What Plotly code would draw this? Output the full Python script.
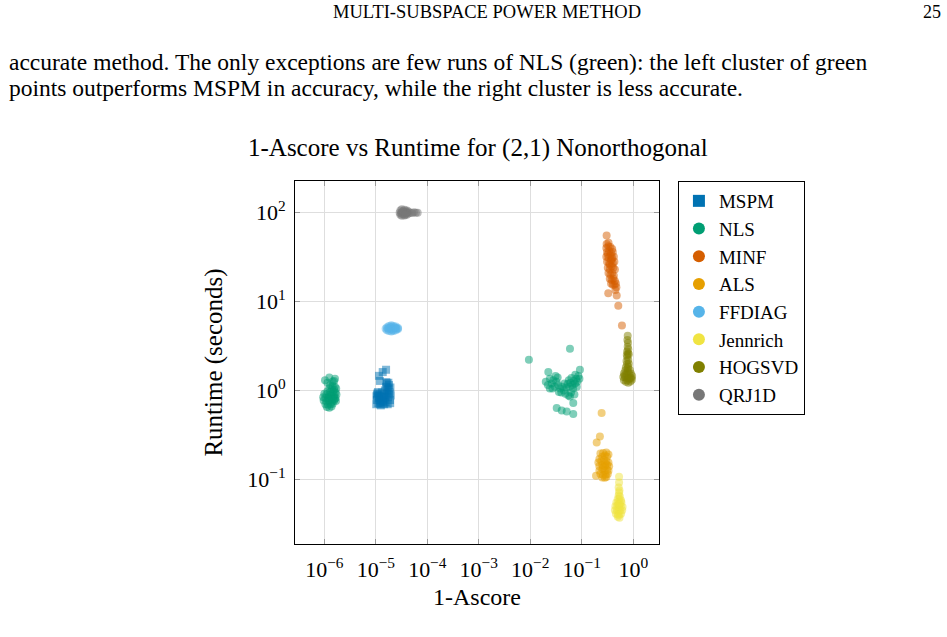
import plotly.graph_objects as go

# ---------------- data (1-Ascore, runtime in seconds) ----------------
methods = ["MSPM", "NLS", "MINF", "ALS", "FFDIAG", "Jennrich", "HOGSVD", "QRJ1D"]
colors = ["#0072B2", "#009E73", "#D55E00", "#E69F00", "#56B4E9", "#F0E442", "#808000", "#777777"]

mspm_x = [1.02e-5, 1.05e-5, 1.03e-5, 1.08e-5, 1.12e-5, 1.15e-5, 1.18e-5, 1.22e-5, 1.25e-5, 1.28e-5,
          1.32e-5, 1.35e-5, 1.40e-5, 1.45e-5, 1.50e-5, 1.55e-5, 1.58e-5, 1.62e-5, 1.65e-5, 1.70e-5,
          1.72e-5, 1.75e-5, 1.80e-5, 1.85e-5, 1.88e-5, 1.92e-5, 1.95e-5, 1.60e-5, 1.75e-5, 1.45e-5,
          1.30e-5, 1.10e-5, 1.05e-5, 1.20e-5, 1.38e-5, 1.52e-5, 1.68e-5, 1.82e-5, 1.90e-5, 1.15e-5,
          1.36e-5, 1.58e-5, 1.15e-5, 1.20e-5]
mspm_y = [0.70, 0.78, 0.86, 0.93, 0.72, 0.82, 0.90, 0.75, 0.68, 0.85,
          0.95, 0.72, 0.80, 0.88, 1.00, 0.74, 1.10, 0.92, 1.20, 0.70,
          0.84, 1.05, 1.15, 0.95, 0.78, 1.08, 0.88, 1.24, 1.22, 0.70,
          0.78, 0.96, 0.90, 0.70, 0.76, 0.84, 1.00, 0.90, 0.72, 0.86,
          1.61, 1.71, 1.46, 1.28]

nls_x = [1.30e-6, 1.45e-6, 1.60e-6, 1.25e-6, 1.40e-6, 1.55e-6, 1.70e-6, 1.15e-6, 1.30e-6, 1.50e-6,
         1.65e-6, 1.00e-6, 1.10e-6, 1.25e-6, 1.40e-6, 1.55e-6, 1.72e-6, 0.95e-6, 1.05e-6, 1.20e-6,
         1.35e-6, 1.50e-6, 1.65e-6, 0.97e-6, 1.10e-6, 1.25e-6, 1.40e-6, 1.55e-6, 1.68e-6, 1.05e-6,
         1.18e-6, 1.32e-6, 1.45e-6, 1.12e-6, 1.25e-6, 1.38e-6, 1.35e-6, 1.20e-6, 1.45e-6, 1.60e-6,
         1.25e-6, 1.61e-6, 1.45e-6, 1.03e-6, 1.55e-6, 1.15e-6,
         0.0094, 0.059, 0.0224, 0.092, 0.0326, 0.0407, 0.051, 0.0684, 0.0684, 0.059,
         0.020, 0.022, 0.024, 0.026, 0.028, 0.030, 0.032, 0.034, 0.027, 0.035,
         0.038, 0.040, 0.042, 0.045, 0.048, 0.050, 0.053, 0.056, 0.060, 0.063,
         0.066, 0.070, 0.074, 0.078, 0.082, 0.086, 0.090, 0.068, 0.062, 0.072,
         0.055, 0.036, 0.031, 0.046, 0.058, 0.080, 0.024, 0.075]
nls_y = [1.15, 1.12, 1.10, 1.06, 1.04, 1.02, 1.05, 0.98, 0.96, 0.97,
         0.95, 0.92, 0.90, 0.88, 0.90, 0.88, 0.90, 0.84, 0.82, 0.83,
         0.81, 0.84, 0.82, 0.77, 0.75, 0.76, 0.74, 0.77, 0.76, 0.70,
         0.69, 0.70, 0.71, 0.65, 0.64, 0.66, 0.86, 0.79, 0.79, 0.80,
         1.40, 1.35, 1.26, 1.30, 1.28, 1.22,
         2.21, 2.94, 1.61, 1.71, 0.634, 0.596, 0.581, 0.543, 0.722, 0.857,
         1.25, 1.15, 1.35, 1.20, 1.30, 1.10, 1.25, 1.40, 1.05, 1.15,
         1.05, 0.95, 1.10, 1.00, 0.92, 1.08, 1.18, 1.30, 1.22, 1.38,
         1.15, 1.28, 1.20, 1.35, 1.25, 1.45, 1.35, 1.05, 0.95, 0.90,
         0.88, 0.96, 1.45, 1.20, 1.10, 1.10, 1.05, 1.50]

minf_x = [0.30, 0.33, 0.36, 0.39, 0.31, 0.34, 0.37, 0.40, 0.30, 0.33,
          0.36, 0.39, 0.42, 0.31, 0.34, 0.37, 0.40, 0.43, 0.32, 0.35,
          0.38, 0.41, 0.44, 0.33, 0.36, 0.39, 0.42, 0.35, 0.38, 0.41,
          0.44, 0.37, 0.40, 0.43, 0.46, 0.47, 0.35, 0.38, 0.32,
          0.304, 0.304, 0.327, 0.477, 0.512, 0.603, 0.33, 0.45]
minf_y = [40, 42, 41, 39, 36, 37, 35, 36, 32, 31,
          33, 31, 32, 28, 27, 29, 27, 28, 24, 23,
          25, 24, 23, 21, 20, 21, 19.5, 18, 17.5, 18,
          17, 16, 15.5, 15.5, 16, 14.5, 26, 30, 34,
          55.2, 44.5, 12.4, 11.7, 8.95, 5.37, 46, 13.5]

als_x = [0.22, 0.25, 0.28, 0.31, 0.21, 0.24, 0.27, 0.30, 0.33, 0.22,
         0.25, 0.28, 0.31, 0.34, 0.22, 0.25, 0.28, 0.31, 0.33, 0.23,
         0.26, 0.29, 0.32, 0.25, 0.28, 0.30, 0.26, 0.29,
         0.243, 0.225, 0.195, 0.189, 0.23, 0.30, 0.26, 0.33]
als_y = [0.170, 0.180, 0.185, 0.180, 0.155, 0.160, 0.165, 0.160, 0.155, 0.140,
         0.145, 0.140, 0.145, 0.140, 0.125, 0.130, 0.125, 0.128, 0.125, 0.115,
         0.112, 0.113, 0.115, 0.105, 0.104, 0.106, 0.135, 0.150,
         0.557, 0.304, 0.260, 0.110, 0.195, 0.200, 0.198, 0.190]

ffdiag_x = [1.55e-5, 1.65e-5, 1.65e-5, 1.80e-5, 1.80e-5, 1.80e-5, 2.00e-5, 2.00e-5, 2.00e-5, 2.00e-5,
            2.20e-5, 2.20e-5, 2.20e-5, 2.45e-5, 2.45e-5, 2.45e-5, 2.70e-5, 2.70e-5, 1.90e-5, 2.10e-5,
            2.30e-5, 1.70e-5, 2.55e-5]
ffdiag_y = [4.95, 4.75, 5.15, 4.65, 4.95, 5.30, 4.60, 4.90, 5.20, 5.40,
            4.65, 4.95, 5.30, 4.75, 5.05, 5.25, 4.90, 5.05, 5.10, 4.80,
            5.10, 5.00, 4.95]

jenn_x = [0.52, 0.55, 0.50, 0.54, 0.58, 0.47, 0.51, 0.55, 0.59, 0.45,
          0.49, 0.53, 0.57, 0.62, 0.44, 0.48, 0.52, 0.56, 0.61, 0.46,
          0.50, 0.54, 0.58, 0.50, 0.54, 0.52,
          0.53, 0.53, 0.52, 0.54, 0.53]
jenn_y = [0.066, 0.064, 0.060, 0.060, 0.058, 0.055, 0.055, 0.054, 0.055, 0.050,
          0.050, 0.049, 0.050, 0.049, 0.045, 0.045, 0.044, 0.045, 0.045, 0.041,
          0.040, 0.040, 0.041, 0.038, 0.037, 0.052,
          0.107, 0.092, 0.081, 0.075, 0.071]

hog_x = [0.66, 0.72, 0.80, 0.88, 0.94, 0.64, 0.70, 0.78, 0.86, 0.95,
         0.66, 0.74, 0.82, 0.90, 0.70, 0.78, 0.86, 0.72, 0.80, 0.76,
         0.82, 0.74, 0.80, 0.78, 0.76, 0.84, 0.68, 0.92,
         0.77, 0.79, 0.76, 0.80, 0.78, 0.79, 0.77, 0.78, 0.75, 0.82]
hog_y = [1.30, 1.25, 1.22, 1.26, 1.32, 1.42, 1.40, 1.38, 1.40, 1.45,
         1.55, 1.52, 1.55, 1.55, 1.68, 1.65, 1.70, 1.82, 1.85, 1.98,
         2.00, 2.15, 2.20, 1.75, 1.30, 1.35, 1.48, 1.38,
         2.40, 2.60, 2.75, 2.90, 3.10, 3.45, 3.70, 4.12, 2.50, 2.55]

qr_x = [2.9e-5, 3.0e-5, 3.0e-5, 3.2e-5, 3.2e-5, 3.2e-5, 3.4e-5, 3.4e-5, 3.6e-5, 3.6e-5,
        3.6e-5, 3.8e-5, 3.8e-5, 4.0e-5, 4.0e-5, 4.0e-5, 4.3e-5, 4.3e-5, 4.7e-5, 5.1e-5,
        5.5e-5, 6.0e-5, 6.5e-5, 3.1e-5, 3.5e-5, 3.9e-5, 3.3e-5, 3.7e-5]
qr_y = [100, 95, 106, 92, 100, 109, 96, 104, 93, 100,
        108, 97, 104, 95, 101, 106, 98, 103, 100, 99,
        101, 100, 100, 98, 101, 99, 103, 95]

series_x = [mspm_x, nls_x, minf_x, als_x, ffdiag_x, jenn_x, hog_x, qr_x]
series_y = [mspm_y, nls_y, minf_y, als_y, ffdiag_y, jenn_y, hog_y, qr_y]

x_ticks = [1e-6, 1e-5, 1e-4, 1e-3, 1e-2, 1e-1, 1e0]
x_ticktext = ["10<sup>−6</sup>", "10<sup>−5</sup>", "10<sup>−4</sup>", "10<sup>−3</sup>",
              "10<sup>−2</sup>", "10<sup>−1</sup>", "10<sup>0</sup>"]
y_ticks = [1e-1, 1e0, 1e1, 1e2]
y_ticktext = ["10<sup>−1</sup>", "10<sup>0</sup>", "10<sup>1</sup>", "10<sup>2</sup>"]

FONT = "Liberation Serif"

fig = go.Figure()
for name, col, xs, ys in zip(methods, colors, series_x, series_y):
    sym = "square" if name == "MSPM" else "circle"
    fig.add_trace(go.Scatter(x=xs, y=ys, mode="markers", showlegend=False,
                             marker=dict(symbol=sym, size=8, color=col, opacity=0.5,
                                         line=dict(width=0))))
# legend-only entries with opaque markers
for name, col in zip(methods, colors):
    sym = "square" if name == "MSPM" else "circle"
    fig.add_trace(go.Scatter(x=[None], y=[None], mode="markers", name=name,
                             marker=dict(symbol=sym, size=13, color=col)))

axis_common = dict(type="log", showline=True, linecolor="black", linewidth=1, mirror="allticks",
                   ticks="inside", ticklen=5, tickcolor="#9a9a9a", showgrid=True,
                   gridcolor="#dedede", gridwidth=1, zeroline=False,
                   tickfont=dict(family=FONT, size=22, color="black"))

fig.update_layout(
    width=947, height=637,
    margin=dict(l=295, r=288, t=181, b=93),
    paper_bgcolor="white", plot_bgcolor="white",
    font=dict(family=FONT, color="black"),
    xaxis=dict(range=[-6.57, 0.5], tickvals=x_ticks, ticktext=x_ticktext, ticklabelstandoff=6,
               title=dict(text="1-Ascore", font=dict(family=FONT, size=24), standoff=6),
               **axis_common),
    yaxis=dict(range=[-1.727, 2.356], tickvals=y_ticks, ticktext=y_ticktext, ticklabelstandoff=4,
               title=dict(text="Runtime (seconds)", font=dict(family=FONT, size=25), standoff=17),
               **axis_common),
    legend=dict(x=1.052, y=1.0, xanchor="left", yanchor="top", bordercolor="black", borderwidth=1,
                font=dict(family=FONT, size=19), bgcolor="white", itemsizing="constant",
                tracegroupgap=0, entrywidth=100, entrywidthmode="pixels"),
    showlegend=True,
)

def px2paper(px, py):
    return (px - 295) / 364, (544 - py) / 363

annots = []
hx, hy = px2paper(487, 12)
annots.append(dict(text="MULTI-SUBSPACE POWER METHOD", x=hx, y=hy, font=dict(size=18.5)))
hx, hy = px2paper(932, 12)
annots.append(dict(text="25", x=hx, y=hy, font=dict(size=18)))
lx, ly = px2paper(7, 62)
annots.append(dict(text="accurate method. The only exceptions are few runs of NLS (green): the left cluster of green",
                   x=lx, y=ly, xanchor="left", font=dict(size=23.5)))
lx, ly = px2paper(7, 88)
annots.append(dict(text="points outperforms MSPM in accuracy, while the right cluster is less accurate.",
                   x=lx, y=ly, xanchor="left", font=dict(size=23.5)))
tx, ty = px2paper(478, 148)
annots.append(dict(text="1-Ascore vs Runtime for (2,1) Nonorthogonal", x=tx, y=ty, font=dict(size=25)))
for a in annots:
    a.update(xref="paper", yref="paper", showarrow=False, yanchor="middle")
    a.setdefault("xanchor", "center")
    a["font"].update(family=FONT, color="black")
fig.update_layout(annotations=annots)

fig.write_html("out.html")
